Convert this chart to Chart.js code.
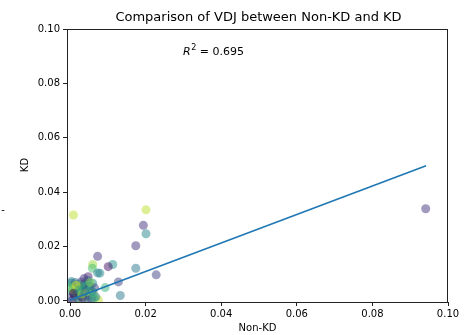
<!DOCTYPE html>
<html>
<head>
<meta charset="utf-8">
<script src="https://cdn.jsdelivr.net/npm/chart.js@4"></script>
<style>
  body { margin: 0; background: #fff; }
  #wrap { width: 467px; height: 335px; }
</style>
</head>
<body>
<div id="wrap"><canvas id="c" width="467" height="335"></canvas></div>
<script>
// values (Non-KD on x, KD on y, colour position 0..1 on viridis)
const nonKD = [0.0009, 0.0201, 0.0194, 0.0201, 0.0174, 0.0073, 0.0113, 0.0101, 0.0174, 0.0228,
  0.0060, 0.0059, 0.0073, 0.0128, 0.0133, 0.0075, 0.0093, 0.0941, 0.0004, 0.0048, 0.0035,
  0.0002, 0.0005, 0.0008, 0.0012, 0.0015, 0.0018, 0.0020, 0.0022, 0.0025, 0.0027, 0.0030,
  0.0032, 0.0035, 0.0038, 0.0040, 0.0042, 0.0045, 0.0047, 0.0050, 0.0052, 0.0055, 0.0057,
  0.0060, 0.0062, 0.0065, 0.0068, 0.0003, 0.0006, 0.0010, 0.0014, 0.0017, 0.0021, 0.0028,
  0.0033, 0.0037, 0.0043, 0.0048, 0.0053, 0.0058, 0.0063, 0.0001, 0.0009, 0.0016, 0.0024,
  0.0031, 0.0039, 0.0079];
const kd = [0.0316, 0.0335, 0.0278, 0.0247, 0.0203, 0.0164, 0.0134, 0.0126, 0.0120, 0.0096,
  0.0134, 0.0120, 0.0103, 0.0070, 0.0020, 0.0004, 0.0049, 0.0339, 0.0071, 0.0089, 0.0053,
  0.0012, 0.0035, 0.0055, 0.0020, 0.0045, 0.0008, 0.0060, 0.0030, 0.0050, 0.0015, 0.0070,
  0.0038, 0.0022, 0.0062, 0.0010, 0.0045, 0.0030, 0.0075, 0.0018, 0.0055, 0.0040, 0.0008,
  0.0065, 0.0028, 0.0048, 0.0015, 0.0065, 0.0002, 0.0040, 0.0068, 0.0025, 0.0004, 0.0058,
  0.0012, 0.0082, 0.0058, 0.0002, 0.0068, 0.0035, 0.0010, 0.0048, 0.0028, 0.0058, 0.0040,
  0.0025, 0.0033, 0.0102];
const colorPos = [0.9, 0.9, 0.15, 0.45, 0.15, 0.15, 0.5, 0.05, 0.4, 0.2,
  0.85, 0.7, 0.45, 0.2, 0.4, 0.9, 0.65, 0.15, 0.45, 0.1, 0.65,
  0.3, 0.6, 0.7, 0.2, 0.5, 0.8, 0.4, 0.1, 0.85, 0.55, 0.2,
  0.65, 0.3, 0.15, 0.75, 0.05, 0.9, 0.35, 0.6, 0.25, 0.7, 0.15,
  0.5, 0.8, 0.2, 0.4, 0.45, 0.1, 0.9, 0.35, 0.6, 0.3, 0.7,
  0.05, 0.15, 0.55, 0.25, 0.8, 0.45, 0.65, 0.75, 0.0, 0.95, 0.5,
  0.85, 0.4, 0.45];
// fitted line end points
const fitX = [0, 0.0942];
const fitY = [0.0003, 0.0497];
const tickVals = [0, 0.02, 0.04, 0.06, 0.08, 0.10];
const rSquared = '0.695';

const viridis = ['#440154', '#482878', '#3e4989', '#31688e', '#26828e', '#1f9e89', '#35b779', '#6ece58', '#b5de2b', '#fde725'];
function hexRgb(h) {
  return [parseInt(h.slice(1, 3), 16), parseInt(h.slice(3, 5), 16), parseInt(h.slice(5, 7), 16)];
}
function viridisColor(t, a) {
  let p = t * (viridis.length - 1);
  let i = Math.min(Math.floor(p), viridis.length - 2);
  let f = p - i;
  let c0 = hexRgb(viridis[i]), c1 = hexRgb(viridis[i + 1]);
  let c = c0.map((v, k) => Math.round(v + (c1[k] - v) * f));
  return 'rgba(' + c[0] + ',' + c[1] + ',' + c[2] + ',' + a + ')';
}

let points = [];
let colors = [];
for (let i = 0; i < nonKD.length; i++) {
  points.push({ x: nonKD[i], y: kd[i] });
  colors.push(viridisColor(colorPos[i], 0.5));
}

const textPlugin = {
  id: 'texts',
  afterDraw(chart) {
    const ctx = chart.ctx;
    const a = chart.chartArea;
    ctx.save();
    // frame
    ctx.strokeStyle = '#222';
    ctx.lineWidth = 1;
    ctx.strokeRect(a.left + 0.5, a.top + 0.5, a.right - a.left - 1, a.bottom - a.top);
    ctx.fillStyle = '#000';
    ctx.textBaseline = 'middle';
    ctx.textAlign = 'center';
    ctx.font = '13px "DejaVu Sans"';
    ctx.fillText('Comparison of VDJ between Non-KD and KD', (a.left + a.right) / 2 + 1, 18);
    ctx.font = '10px "DejaVu Sans"';
    ctx.fillText('Non-KD', (a.left + a.right) / 2, 328);
    ctx.save();
    ctx.translate(25, 165);
    ctx.rotate(-Math.PI / 2);
    ctx.fillText('KD', 0, 0);
    ctx.restore();
    ctx.fillText('-', 3, 210);
    // R squared label
    ctx.textAlign = 'left';
    let x = 183, y = 52;
    ctx.font = 'italic 11px "DejaVu Sans"';
    ctx.fillText('R', x, y);
    x += ctx.measureText('R').width + 0.5;
    ctx.font = '8px "DejaVu Sans"';
    ctx.fillText('2', x, y - 4);
    x += ctx.measureText('2').width;
    ctx.font = '11px "DejaVu Sans"';
    ctx.fillText(' = ' + rSquared, x, y);
    ctx.restore();
  }
};

const chart = new Chart(document.getElementById('c'), {
  type: 'scatter',
  data: {
    datasets: [{
      type: 'line',
      data: fitX.map((v, i) => ({ x: v, y: fitY[i] })),
      borderColor: '#1f77b4',
      borderWidth: 1.6,
      pointRadius: 0,
      fill: false,
      order: 0
    }, {
      data: points,
      backgroundColor: colors,
      borderWidth: 0,
      pointRadius: 4.5,
      order: 1
    }]
  },
  plugins: [textPlugin],
  options: {
    responsive: false,
    animation: false,
    events: [],
    layout: { padding: { top: 29, right: 19, left: 0, bottom: 0 } },
    plugins: { legend: { display: false }, tooltip: { enabled: false } },
    scales: {
      x: {
        type: 'linear',
        min: -0.0008,
        max: 0.1,
        afterBuildTicks: (s) => { s.ticks = tickVals.map(v => ({ value: v })); },
        afterFit: (s) => { s.height = 33; },
        grid: { display: true, drawOnChartArea: false, tickLength: 4, tickColor: '#222', color: '#222' },
        border: { display: false },
        ticks: {
          color: '#000', padding: 2, maxRotation: 0,
          font: { family: 'DejaVu Sans', size: 10 },
          callback: (v) => v.toFixed(2)
        }
      },
      y: {
        type: 'linear',
        min: -0.0004,
        max: 0.1,
        afterBuildTicks: (s) => { s.ticks = tickVals.map(v => ({ value: v })); },
        afterFit: (s) => { s.width = 67; },
        grid: { display: true, drawOnChartArea: false, tickLength: 4, tickColor: '#222', color: '#222' },
        border: { display: false },
        ticks: {
          color: '#000', padding: 3,
          font: { family: 'DejaVu Sans', size: 10 },
          callback: (v) => v.toFixed(2)
        }
      }
    }
  }
});
</script>
</body>
</html>
